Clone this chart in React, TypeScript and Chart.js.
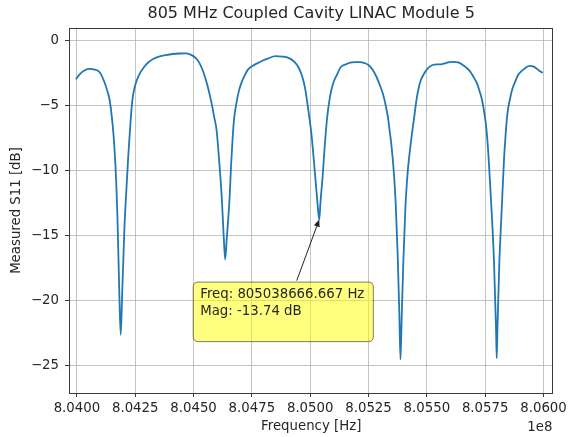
import React, { useEffect, useRef } from "react";
import { Chart, registerables } from "chart.js";

Chart.register(...registerables);

const TITLE = "805 MHz Coupled Cavity LINAC Module 5";
const X_LABEL = "Frequency [Hz]";
const Y_LABEL = "Measured S11 [dB]";
const X_OFFSET_TEXT = "1e8";

// frequency in MHz
const freqMHz: number[] = [
  803.9958, 804.0127, 804.0339, 804.0551, 804.0763, 804.0975, 804.1144, 804.1314, 804.1398, 804.1483,
  804.1568, 804.1653, 804.1737, 804.1822, 804.1877, 804.1936, 804.2034, 804.2119, 804.2203, 804.2288,
  804.2373, 804.25, 804.2669, 804.2881, 804.3093, 804.3305, 804.3517, 804.3814, 804.411, 804.4407,
  804.4661, 804.4873, 804.5085, 804.5254, 804.5424, 804.5593, 804.5763, 804.589, 804.5987, 804.6059,
  804.6144, 804.6208, 804.6292, 804.6356, 804.6419, 804.6547, 804.661, 804.6674, 804.6737, 804.6835,
  804.6949, 804.7055, 804.7203, 804.7331, 804.7542, 804.7754, 804.7966, 804.8178, 804.8517, 804.8814,
  804.9068, 804.9322, 804.9492, 804.9661, 804.9788, 804.9894, 805.0055, 805.0148, 805.0233, 805.0318,
  805.038666667, 805.0445, 805.053, 805.0614, 805.072, 805.0847, 805.0975, 805.1144, 805.1314, 805.1525,
  805.1708, 805.1907, 805.2131, 805.2331, 805.25, 805.2669, 805.2839, 805.2987, 805.3123, 805.3242,
  805.3335, 805.3411, 805.3475, 805.3581, 805.3665, 805.375, 805.3822, 805.3869, 805.3919, 805.3992,
  805.4081, 805.4174, 805.425, 805.4322, 805.4386, 805.4462, 805.4534, 805.4606, 805.4725, 805.4886,
  805.5042, 805.5242, 805.5424, 805.5593, 805.5805, 805.5975, 805.6144, 805.6335, 805.6513, 805.6695,
  805.6864, 805.7013, 805.7148, 805.7267, 805.736, 805.747, 805.7555, 805.7648, 805.7742, 805.7818,
  805.7881, 805.7966, 805.7996, 805.8025, 805.8106, 805.8169, 805.8233, 805.8305, 805.8377, 805.8453,
  805.8559, 805.8665, 805.8771, 805.8919, 805.9068, 805.9237, 805.9407, 805.9555, 805.9691, 805.9831,
  805.997,
];

// measured S11 in dB
const s11dB: number[] = [
  -2.95, -2.55, -2.25, -2.15, -2.2, -2.4, -3.0, -3.9, -4.5, -5.6,
  -7.2, -9.6, -13.5, -19.7, -22.6, -19.7, -14.5, -11.5, -8.8, -6.5,
  -4.6, -3.4, -2.6, -2.0, -1.6, -1.35, -1.2, -1.08, -1.0, -0.96,
  -0.95, -1.05, -1.3, -1.7, -2.4, -3.4, -4.7, -5.9, -6.85, -8.3,
  -10.3, -12.0, -15.0, -16.8, -15.3, -12.0, -9.5, -7.5, -6.0, -4.8,
  -3.8, -3.2, -2.6, -2.2, -1.9, -1.7, -1.5, -1.35, -1.17, -1.2,
  -1.3, -1.6, -2.0, -2.75, -3.7, -5.0, -7.2, -9.0, -10.8, -12.6,
  -13.74, -12.3, -10.5, -8.3, -6.0, -4.3, -3.3, -2.6, -2.0, -1.8,
  -1.67, -1.62, -1.62, -1.7, -1.85, -2.2, -2.75, -3.4, -4.1, -5.0,
  -5.9, -7.0, -7.9, -10.0, -12.5, -16.5, -21.0, -24.5, -21.5, -17.0,
  -12.8, -10.2, -8.8, -7.7, -6.8, -5.8, -4.8, -4.0, -3.1, -2.5,
  -2.1, -1.85, -1.8, -1.8, -1.7, -1.63, -1.6, -1.65, -1.8, -2.05,
  -2.36, -2.8, -3.26, -3.9, -4.5, -5.6, -6.8, -9.0, -12.0, -14.5,
  -17.1, -22.2, -24.4, -22.2, -17.1, -14.5, -12.0, -9.2, -7.2, -5.6,
  -4.5, -3.7, -3.2, -2.6, -2.3, -2.05, -1.92, -1.95, -2.1, -2.3,
  -2.45,
];

const xTicksMHz: number[] = [804.0, 804.25, 804.5, 804.75, 805.0, 805.25, 805.5, 805.75, 806.0];
const yTicks: number[] = [-25, -20, -15, -10, -5, 0];

const annotFreqMHz = 805.038666667;
const annotMag = -13.74;
const annotLines: string[] = ["Freq: 805038666.667 Hz", "Mag: -13.74 dB", ""];

const FONT = "'DejaVu Sans', 'Liberation Sans', sans-serif";
const TEXT_COLOR = "#262626";
const FS = 13.3;

const decorPlugin = {
  id: "decor",
  beforeDraw(chart: any) {
    const ctx = chart.ctx;
    ctx.save();
    ctx.fillStyle = "#ffffff";
    ctx.fillRect(0, 0, chart.width, chart.height);
    ctx.restore();
  },
  afterDatasetsDraw(chart: any) {
    const ctx = chart.ctx;
    const { left, right, top, bottom } = chart.chartArea;
    const xs = chart.scales.x;
    const ys = chart.scales.y;
    ctx.save();
    // spines
    ctx.strokeStyle = "#3a3a3a";
    ctx.lineWidth = 1;
    ctx.strokeRect(Math.round(left) + 0.5, Math.round(top) + 0.5, Math.round(right - left) - 1, Math.round(bottom - top));

    // annotation
    const px = xs.getPixelForValue(annotFreqMHz);
    const py = ys.getPixelForValue(annotMag);
    const bx = px - 126;
    const by = py + 62.5;
    ctx.font = `${FS}px ${FONT}`;
    let tw = 0;
    for (const l of annotLines) tw = Math.max(tw, ctx.measureText(l).width);
    const bw = tw + 16;
    const bh = 59.5;
    const r = 5;
    ctx.beginPath();
    ctx.moveTo(bx + r, by);
    ctx.lineTo(bx + bw - r, by);
    ctx.quadraticCurveTo(bx + bw, by, bx + bw, by + r);
    ctx.lineTo(bx + bw, by + bh - r);
    ctx.quadraticCurveTo(bx + bw, by + bh, bx + bw - r, by + bh);
    ctx.lineTo(bx + r, by + bh);
    ctx.quadraticCurveTo(bx, by + bh, bx, by + bh - r);
    ctx.lineTo(bx, by + r);
    ctx.quadraticCurveTo(bx, by, bx + r, by);
    ctx.closePath();
    ctx.fillStyle = "rgba(255,255,0,0.5)";
    ctx.fill();
    ctx.strokeStyle = "rgba(0,0,0,0.5)";
    ctx.lineWidth = 1;
    ctx.stroke();

    ctx.fillStyle = TEXT_COLOR;
    ctx.textAlign = "left";
    ctx.textBaseline = "middle";
    annotLines.forEach((l, i) => {
      ctx.fillText(l, bx + 7, by + 12 + i * 17.3);
    });

    // arrow from box to point
    const tx = px - 22.5;
    const ty = by - 1.5;
    const ang = Math.atan2(py - ty, px - tx);
    const hl = 7;
    const hw = 3;
    const ex = px - Math.cos(ang) * hl;
    const ey = py - Math.sin(ang) * hl;
    ctx.strokeStyle = "#222";
    ctx.lineWidth = 1;
    ctx.beginPath();
    ctx.moveTo(tx, ty);
    ctx.lineTo(ex, ey);
    ctx.stroke();
    ctx.fillStyle = "#222";
    ctx.beginPath();
    ctx.moveTo(px, py);
    ctx.lineTo(ex + Math.sin(ang) * hw, ey - Math.cos(ang) * hw);
    ctx.lineTo(ex - Math.sin(ang) * hw, ey + Math.cos(ang) * hw);
    ctx.closePath();
    ctx.fill();

    // title and labels
    const cx = (left + right) / 2;
    ctx.fillStyle = TEXT_COLOR;
    ctx.textAlign = "center";
    ctx.textBaseline = "middle";
    ctx.font = `16px ${FONT}`;
    ctx.fillText(TITLE, cx, 14);
    ctx.font = `${FS}px ${FONT}`;
    ctx.fillText(X_LABEL, cx, 427);
    ctx.textAlign = "right";
    ctx.fillText(X_OFFSET_TEXT, right - 1, 428);
    ctx.save();
    ctx.translate(17, (top + bottom) / 2);
    ctx.rotate(-Math.PI / 2);
    ctx.textAlign = "center";
    ctx.fillText(Y_LABEL, 0, 0);
    ctx.restore();
    ctx.restore();
  },
};

export default function App() {
  const ref = useRef<HTMLCanvasElement | null>(null);
  useEffect(() => {
    if (!ref.current) return;
    const data = freqMHz.map((f, i) => ({ x: f, y: s11dB[i] }));
    const chart = new Chart(ref.current, {
      type: "line",
      data: {
        datasets: [
          {
            data,
            borderColor: "#1f77b4",
            borderWidth: 1.8,
            pointRadius: 0,
            fill: false,
            cubicInterpolationMode: "monotone",
          },
        ],
      },
      options: {
        animation: false,
        responsive: false,
        devicePixelRatio: 1,
        parsing: false as any,
        layout: { padding: { left: 0, right: 12, top: 28, bottom: 0 }, autoPadding: false } as any,
        plugins: { legend: { display: false }, title: { display: false }, tooltip: { enabled: false } },
        scales: {
          x: {
            type: "linear",
            min: 803.9661,
            max: 806.0424,
            afterFit: (s: any) => {
              s.height = 44;
            },
            afterBuildTicks: (s: any) => {
              s.ticks = xTicksMHz.map((v) => ({ value: v }));
            },
            ticks: {
              autoSkip: false,
              maxRotation: 0,
              padding: 4,
              color: TEXT_COLOR,
              font: { family: FONT, size: FS },
              callback: (v: any) => (Number(v) / 100).toFixed(4),
            },
            grid: {
              color: "rgba(176,176,176,0.75)",
              lineWidth: 1,
              drawTicks: true,
              tickLength: 4,
              tickColor: "#3a3a3a",
            },
            border: { display: false },
          },
          y: {
            type: "linear",
            min: -27.08,
            max: 1.0,
            afterFit: (s: any) => {
              s.width = 69;
            },
            afterBuildTicks: (s: any) => {
              s.ticks = yTicks.map((v) => ({ value: v }));
            },
            ticks: {
              autoSkip: false,
              padding: 6,
              color: TEXT_COLOR,
              font: { family: FONT, size: FS },
              callback: (v: any) => String(v).replace("-", "\u2212"),
            },
            grid: {
              color: "rgba(176,176,176,0.75)",
              lineWidth: 1,
              drawTicks: true,
              tickLength: 4,
              tickColor: "#3a3a3a",
            },
            border: { display: false },
          },
        },
      },
      plugins: [decorPlugin],
    });
    return () => chart.destroy();
  }, []);
  return (
    <div style={{ position: "absolute", left: 0, top: 0, width: 571, height: 437, background: "#fff" }}>
      <canvas ref={ref} width={571} height={437} style={{ display: "block", width: 571, height: 437 }} />
    </div>
  );
}
